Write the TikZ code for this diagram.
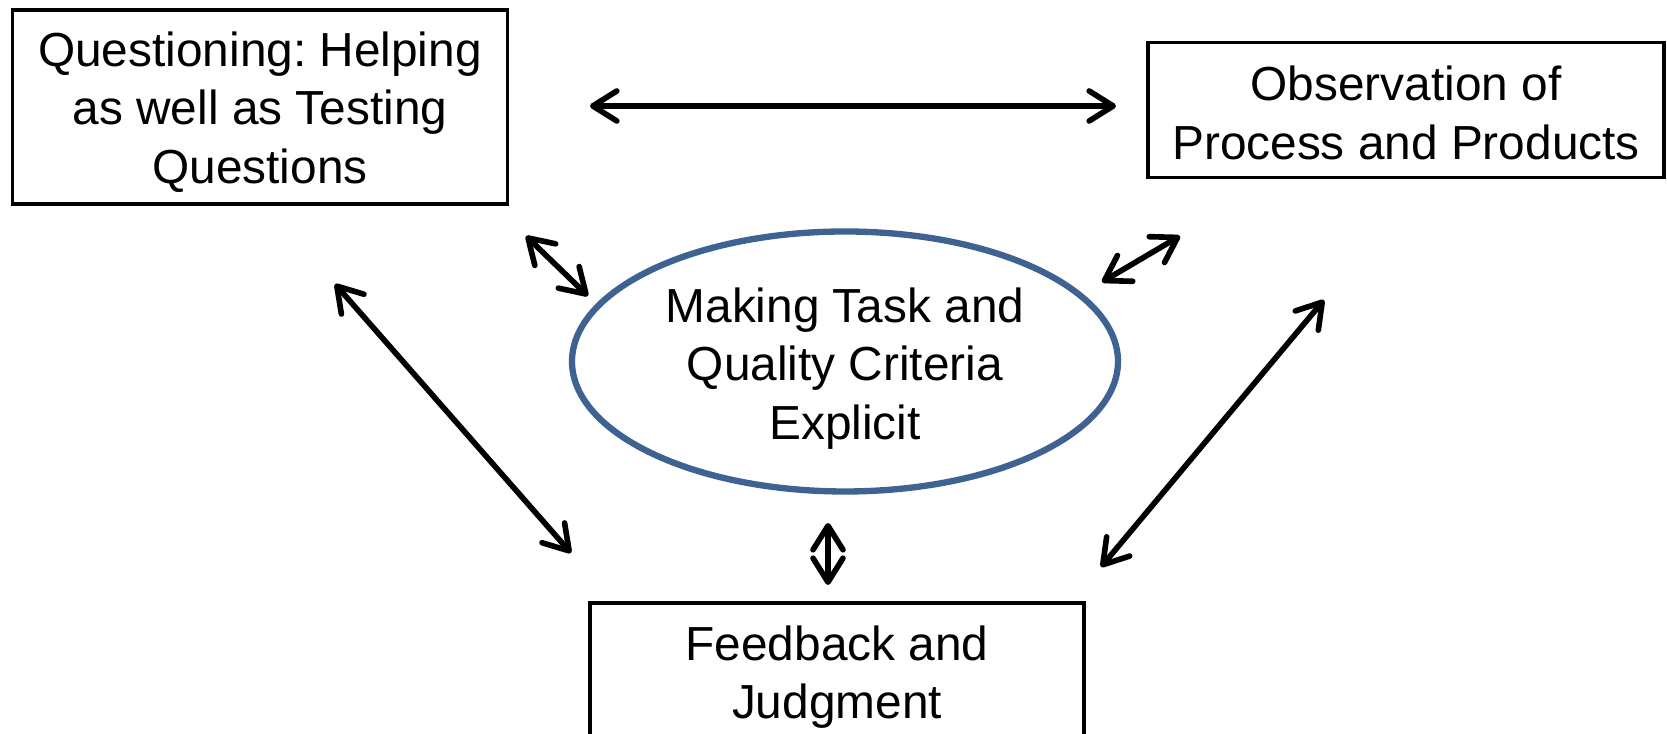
\documentclass[tikz,border=0pt]{standalone}
\usepackage{fontspec}
\setmainfont{Liberation Sans}
\frenchspacing
\usetikzlibrary{arrows.meta, shapes.geometric}
\tikzset{>={Straight Barb[length=2.4mm, width=3mm, round]}}
\tikzset{
    box/.style={draw, line width=0.9pt},
    txt/.style={align=center, inner sep=0pt, font=\fontsize{13.6}{16.7}\selectfont},
    link/.style={<->, line width=1.6pt}
}
\definecolor{ovalblue}{RGB}{62,98,145}

\begin{document}
\begin{tikzpicture}
    \useasboundingbox (0,0) rectangle (16.67,-7.34);
    % the four parts
    \node [box, minimum width=4.95cm, minimum height=1.94cm] (quest) at (2.60,-1.07) {};
    \node [box, minimum width=5.16cm, minimum height=1.35cm] (observ) at (14.06,-1.10) {};
    \node [box, ellipse, draw=ovalblue, line width=1.8pt, minimum width=5.46cm, minimum height=2.60cm] (criteria) at (8.45,-3.615) {};
    \node [box, minimum width=4.94cm, minimum height=1.40cm] (feedb) at (8.37,-6.73) {};
    % their texts
    \node [txt] (quest-t) at ([yshift=-0.05cm]quest) {Questioning: Helping\\as well as Testing\\Questions};
    \node [txt] (observ-t) at ([yshift=-0.03cm]observ) {Observation of\\Process and Products};
    \node [txt] (criteria-t) at ([yshift=-0.07cm]criteria) {Making Task and\\Quality Criteria\\Explicit};
    \node [txt] (feedb-t) at ([yshift=-0.04cm]feedb) {Feedback and\\Judgment};
    % arrow ends
    \coordinate (qo1) at (5.90,-1.06);
    \coordinate (qo2) at (11.16,-1.06);
    \coordinate (qc1) at (5.26,-2.36);
    \coordinate (qc2) at (5.88,-2.96);
    \coordinate (qf1) at (3.35,-2.84);
    \coordinate (qf2) at (5.71,-5.53);
    \coordinate (oc1) at (11.80,-2.36);
    \coordinate (oc2) at (11.02,-2.82);
    \coordinate (of1) at (13.24,-3.00);
    \coordinate (of2) at (11.01,-5.67);
    \coordinate (cf1) at (8.28,-5.23);
    \coordinate (cf2) at (8.28,-5.85);
    \draw [link] (qo1) -- (qo2);
    \draw [link] (qc1) -- (qc2);
    \draw [link] (qf1) -- (qf2);
    \draw [link] (oc1) -- (oc2);
    \draw [link] (of1) -- (of2);
    \draw [link] (cf1) -- (cf2);
\end{tikzpicture}
\end{document}
